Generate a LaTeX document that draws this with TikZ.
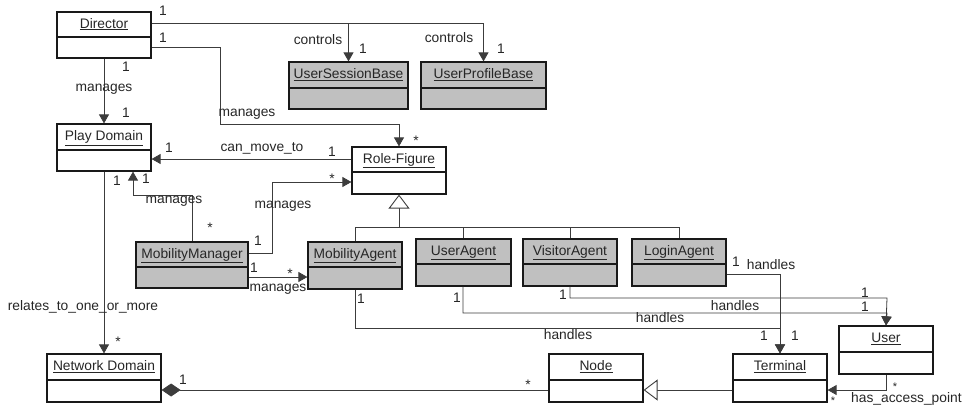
\documentclass[tikz,border=0pt]{standalone}
\usepackage{fontspec}
\setmainfont{Liberation Sans}
\usetikzlibrary{arrows.meta,fit}

\definecolor{boxgray}{RGB}{192,192,192}
\definecolor{linegray}{RGB}{60,60,60}

\tikzset{
  cls/.style={draw=black!90, line width=1.2pt, inner sep=0pt},
  agent/.style={cls, fill=boxgray},
  divider/.style={draw=black!90, line width=1.2pt},
  ttl/.style={inner sep=0pt, font=\fontsize{13.8}{16}\selectfont, text=black!85, text height=10pt, text depth=3pt},
  lbl/.style={inner sep=0pt, font=\fontsize{13.8}{16}\selectfont, text=black!85, text height=9.5pt, text depth=2.5pt},
  starlbl/.style={lbl, yshift=-4pt},
  smallstar/.style={inner sep=0pt, font=\fontsize{11}{13}\selectfont, text=black!85, text height=8pt, text depth=0pt},
  conn/.style={draw=linegray, line width=0.8pt},
  arr/.style={conn, -{Triangle[length=9pt,width=10pt]}},
  gen/.style={conn, -{Triangle[open, length=14pt, width=21pt, line width=0.9pt, fill=white]}},
  comp/.style={conn, -{Diamond[length=19pt, width=13pt]}},
}

% a UML class box: style, name, x1, y1, x2, y2, divider y, title
\newcommand\umlclass[8]{%
  \node[#1, fit={(#3,#4) (#5,#6)}] (#2) {};
  \draw[divider] (#3,#7) -- (#5,#7);
  \node[ttl] (#2-title) at ({(#3+#5)/2},{(#4+#7)/2}) {\underline{#8}};
}

\begin{document}
\begin{tikzpicture}[x=1pt,y=-1pt]
\useasboundingbox (0,0) rectangle (963,405);

% classes
\umlclass{cls}{dir}{57}{12}{151}{58}{37}{Director}
\umlclass{cls}{pd}{57}{124}{151}{171}{150}{Play Domain}
\umlclass{agent}{usb}{289}{62}{408}{109}{88}{UserSessionBase}
\umlclass{agent}{upb}{421}{62}{546}{109}{88}{UserProfileBase}
\umlclass{cls}{rf}{352}{147}{446}{194}{172}{Role-Figure}
\umlclass{agent}{mm}{136}{242}{248}{288}{267}{MobilityManager}
\umlclass{agent}{ma}{308}{242}{402}{289}{267}{MobilityAgent}
\umlclass{agent}{ua}{416}{239}{511}{286}{264}{UserAgent}
\umlclass{agent}{va}{523}{239}{617}{286}{264}{VisitorAgent}
\umlclass{agent}{la}{632}{239}{726}{286}{264}{LoginAgent}
\umlclass{cls}{nd}{47}{354}{161}{402}{380}{Network Domain}
\umlclass{cls}{node}{549}{354}{643}{402}{380}{Node}
\umlclass{cls}{term}{733}{354}{827}{402}{380}{Terminal}
\umlclass{cls}{user}{839}{326}{933}{374}{352}{User}

% Director associations
\draw[arr] (dir.east |- 0,23) -| (usb.north);
\draw[arr] (dir.east |- 0,23) -| (upb.north);
\draw[arr] (dir.east |- 0,47) -- (220,47) -- (220,124) -| (rf.north);
\draw[arr] (dir.south) -- (pd.north);

% Role-Figure and MobilityManager
\draw[arr] (rf.west |- 0,159) -- (pd.east |- 0,159);
\draw[arr] (mm.north -| 192,0) -- (192,195) -| (pd.south -| 133,0);
\draw[arr] (mm.east |- 0,253) -- (272,253) |- (rf.west |- 0,182);
\draw[arr] (mm.east |- 0,277) -- (ma.west |- 0,277);

% generalisation of the agents
\draw[conn] (ma.north -| 355,0) -- (355,227) -- (679,227) -- (la.north -| 679,0);
\draw[conn] (ua.north -| 463,0) -- (463,227);
\draw[conn] (va.north -| 570,0) -- (570,227);
\draw[gen] (399,227) -- (rf.south);

% handles
\draw[arr] (ma.south -| 355,0) |- (780,328) -- (term.north);
\draw[arr] (la.east |- 0,274) -| (term.north);
\draw[arr] (ua.south -| 463,0) |- (887,313) -- (user.north);
\draw[arr] (va.south -| 570,0) |- (887,298) -- (user.north);

% access point, node hierarchy, composition
\draw[arr] (user.south) |- (term.east |- 0,390);
\draw[gen] (term.west |- 0,390) -- (node.east |- 0,390);
\draw[comp] (node.west |- 0,390) -- (nd.east |- 0,390);
\draw[arr] (pd.south) -- (nd.north);

% labels
\node[lbl] (l1) at (163,12) {1};
\node[lbl] (l2) at (163,39) {1};
\node[lbl] (l3) at (318,41) {controls};
\node[lbl] (l4) at (363,50) {1};
\node[lbl] (l5) at (449,39) {controls};
\node[lbl] (l6) at (501,50) {1};
\node[lbl] (l7) at (126,68) {1};
\node[lbl] (l8) at (104,88) {manages};
\node[lbl] (l9) at (126,114) {1};
\node[lbl] (l10) at (247,113) {manages};
\node[starlbl] (l11) at (416,138) {*};
\node[lbl] (l12) at (169,149) {1};
\node[lbl] (l13) at (262,148) {can\_move\_to};
\node[lbl] (l14) at (332,153) {1};
\node[starlbl] (l15) at (332,176) {*};
\node[lbl] (l16) at (117,182) {1};
\node[lbl] (l17) at (146,180) {1};
\node[lbl] (l18) at (174,200) {manages};
\node[starlbl] (l19) at (210,225) {*};
\node[lbl] (l20) at (283,205) {manages};
\node[lbl] (l21) at (258,242) {1};
\node[lbl] (l22) at (254,269) {1};
\node[starlbl] (l23) at (290,271) {*};
\node[lbl] (l24) at (278,288) {manages};
\node[lbl] (l25) at (83,307) {relates\_to\_one\_or\_more};
\node[starlbl] (l26) at (118,339) {*};
\node[lbl] (l27) at (183,381) {1};
\node[starlbl] (l28) at (528,382) {*};
\node[lbl] (l29) at (361,300) {1};
\node[lbl] (l30) at (457,299) {1};
\node[lbl] (l31) at (563,296) {1};
\node[lbl] (l32) at (568,336) {handles};
\node[lbl] (l33) at (660,319) {handles};
\node[lbl] (l34) at (735,307) {handles};
\node[lbl] (l35) at (865,294) {1};
\node[lbl] (l36) at (865,308) {1};
\node[lbl] (l37) at (736,263) {1};
\node[lbl] (l38) at (771,266) {handles};
\node[lbl] (l39) at (764,337) {1};
\node[lbl] (l40) at (795,337) {1};
\node[smallstar] (l41) at (895,386) {*};
\node[lbl, anchor=west] (l42) at (851,399) {has\_access\_point};
\node[smallstar] (l43) at (833,400) {*};
\end{tikzpicture}
\end{document}
